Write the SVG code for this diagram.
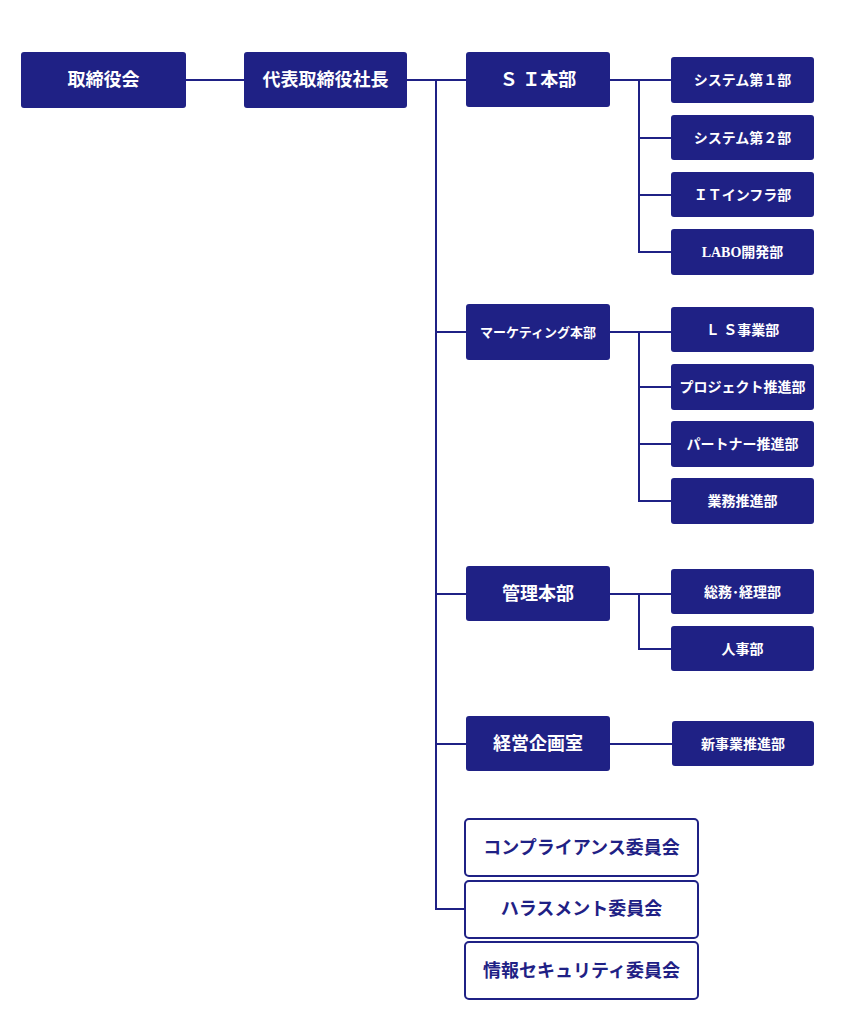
<svg xmlns="http://www.w3.org/2000/svg" width="861" height="1024" viewBox="0 0 861 1024">
<style>
.n{fill:#1f2185;}
.o{fill:#fff;stroke:#1f2185;stroke-width:2;}
text{font-family:"Liberation Serif","Noto Sans CJK JP",serif;font-weight:bold;text-anchor:middle;dominant-baseline:central;}
.w{fill:#fff;}
.b{fill:#1f2185;}
.l{font-size:18px}.s{font-size:14px}.c{font-size:18px}
#conn path{fill:none;stroke:#1f2185;stroke-width:2;}
</style>
<rect width="861" height="1024" fill="#fff"/>
<g id="conn">
<path d="M186 80H466M436 80V909H466M436 332H466M436 594H466M436 744H466"/>
<path d="M610 80H671M639 80V252H671M639 138H671M639 195H671"/>
<path d="M610 332H671M639 332V501H671M639 387H671M639 444H671"/>
<path d="M610 594H671M639 594V649H671"/>
<path d="M610 744H672"/>
</g>
<g id="board"><rect class="n" x="21" y="52" width="165" height="56" rx="3"/><text class="w l" x="103.5" y="80">取締役会</text></g>
<g id="ceo"><rect class="n" x="244" y="52" width="163" height="56" rx="3"/><text class="w l" x="325.5" y="80">代表取締役社長</text></g>
<g id="si"><rect class="n" x="466" y="52" width="144" height="55" rx="3"/><text class="w l" x="538" y="80">Ｓ Ｉ本部</text></g>
<g id="sys1"><rect class="n" x="671" y="57" width="143" height="46" rx="3"/><text class="w s" x="742.5" y="80">システム第１部</text></g>
<g id="sys2"><rect class="n" x="671" y="115" width="143" height="45" rx="3"/><text class="w s" x="742.5" y="138">システム第２部</text></g>
<g id="it"><rect class="n" x="671" y="172" width="143" height="45" rx="3"/><text class="w s" x="742.5" y="195">ＩＴインフラ部</text></g>
<g id="labo"><rect class="n" x="671" y="229" width="143" height="46" rx="3"/><text class="w s" x="742.5" y="252">LABO開発部</text></g>
<g id="mk"><rect class="n" x="466" y="304" width="144" height="56" rx="3"/><text class="w" style="font-size:13px" x="538" y="332">マーケティング本部</text></g>
<g id="ls"><rect class="n" x="671" y="307" width="143" height="45" rx="3"/><text class="w s" x="742.5" y="330">Ｌ Ｓ事業部</text></g>
<g id="pj"><rect class="n" x="671" y="364" width="143" height="46" rx="3"/><text class="w s" x="742.5" y="387">プロジェクト推進部</text></g>
<g id="pt"><rect class="n" x="671" y="421" width="143" height="46" rx="3"/><text class="w s" x="742.5" y="444">パートナー推進部</text></g>
<g id="gm"><rect class="n" x="671" y="478" width="143" height="46" rx="3"/><text class="w s" x="742.5" y="501">業務推進部</text></g>
<g id="kanri"><rect class="n" x="466" y="566" width="144" height="55" rx="3"/><text class="w l" x="538" y="594">管理本部</text></g>
<g id="soumu"><rect class="n" x="671" y="569" width="143" height="45" rx="3"/><text class="w s" x="742.5" y="592">総務･経理部</text></g>
<g id="jinji"><rect class="n" x="671" y="626" width="143" height="45" rx="3"/><text class="w s" x="742.5" y="649">人事部</text></g>
<g id="keiei"><rect class="n" x="466" y="716" width="144" height="55" rx="3"/><text class="w l" x="538" y="744">経営企画室</text></g>
<g id="shinjigyo"><rect class="n" x="672" y="721" width="142" height="45" rx="3"/><text class="w s" x="743" y="744">新事業推進部</text></g>
<g id="comp"><rect class="o" x="465" y="819" width="233" height="57" rx="4"/><text class="b c" x="581.5" y="848">コンプライアンス委員会</text></g>
<g id="hara"><rect class="o" x="465" y="881" width="233" height="57" rx="4"/><text class="b c" x="581.5" y="909">ハラスメント委員会</text></g>
<g id="sec"><rect class="o" x="465" y="942" width="233" height="57" rx="4"/><text class="b c" x="581.5" y="971">情報セキュリティ委員会</text></g>
</svg>
